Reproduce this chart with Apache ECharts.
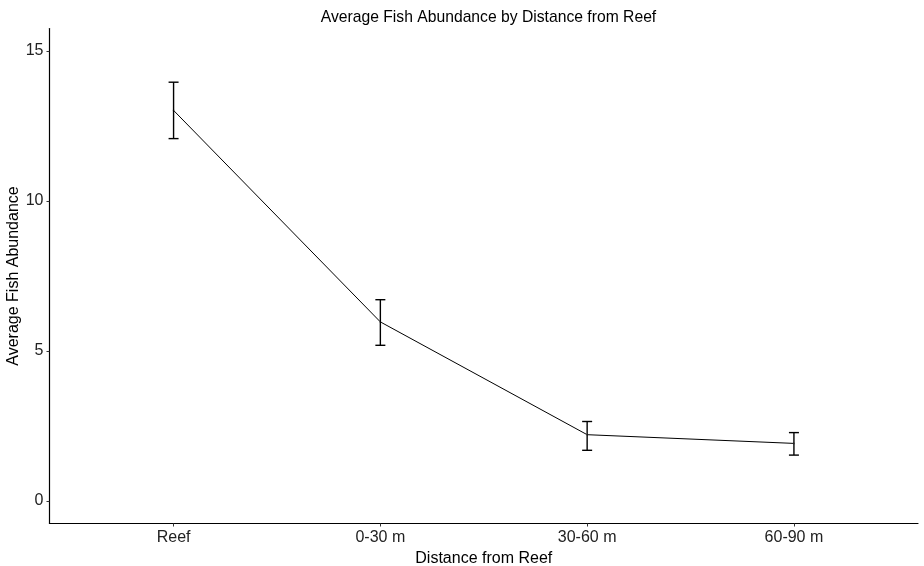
<!DOCTYPE html>
<html>
<head>
<meta charset="utf-8">
<script src="https://cdn.jsdelivr.net/npm/echarts@6/dist/echarts.min.js"></script>
<style>
  html, body { margin: 0; padding: 0; background: #fff; }
  #chart { width: 924px; height: 566px; }
</style>
</head>
<body>
<div id="chart"></div>
<script>
  const categories = ['Reef', '0-30 m', '30-60 m', '60-90 m'];
  const meanAbundance = [13.02, 5.97, 2.21, 1.92];
  const lowerBound = [12.08, 5.19, 1.69, 1.53];
  const upperBound = [13.96, 6.71, 2.65, 2.28];
  const yTicks = [0, 5, 10, 15];

  const chart = echarts.init(document.getElementById('chart'));
  const font = 'Liberation Sans, Arial, sans-serif';

  const lineData = meanAbundance.map((v, i) => [i, v]);
  const errorData = categories.map((c, i) => [i, lowerBound[i], upperBound[i]]);

  function renderErrorBar(params, api) {
    const x = api.value(0);
    const lo = api.coord([x, api.value(1)]);
    const hi = api.coord([x, api.value(2)]);
    const half = 5;
    const style = { stroke: '#000', lineWidth: 1.4 };
    return {
      type: 'group',
      children: [
        { type: 'line', shape: { x1: lo[0], y1: lo[1], x2: hi[0], y2: hi[1] }, style },
        { type: 'line', shape: { x1: lo[0] - half, y1: lo[1], x2: lo[0] + half, y2: lo[1] }, style },
        { type: 'line', shape: { x1: hi[0] - half, y1: hi[1], x2: hi[0] + half, y2: hi[1] }, style },
      ],
    };
  }

  chart.setOption({
    animation: false,
    title: {
      text: 'Average Fish Abundance by Distance from Reef',
      left: 483.5,
      textAlign: 'center',
      top: 5,
      textStyle: { fontFamily: font, fontSize: 15.7, fontWeight: 'normal', color: '#000' },
    },
    grid: {
      left: 49.5, right: 6, top: 28.5, bottom: 42.5,
      containLabel: false, outerBoundsMode: 'none',
    },
    xAxis: {
      type: 'value',
      min: -0.6,
      max: 3.6,
      name: 'Distance from Reef',
      nameLocation: 'middle',
      nameGap: 27,
      nameMoveOverlap: false,
      nameTextStyle: { fontFamily: font, fontSize: 16, color: '#000' },
      axisLine: { onZero: false, lineStyle: { color: '#000', width: 1.2 } },
      axisTick: { customValues: [0, 1, 2, 3], length: 3, lineStyle: { color: '#333' } },
      axisLabel: {
        customValues: [0, 1, 2, 3],
        formatter: (v) => categories[Math.round(v)],
        fontFamily: font, fontSize: 16, color: '#222', margin: 6,
      },
      splitLine: { show: false },
    },
    yAxis: {
      type: 'value',
      min: -0.75,
      max: 15.75,
      name: 'Average Fish Abundance',
      nameLocation: 'middle',
      nameGap: 28,
      nameMoveOverlap: false,
      nameTextStyle: { fontFamily: font, fontSize: 16, color: '#000' },
      axisLine: { show: true, onZero: false, lineStyle: { color: '#000', width: 1.2 } },
      axisTick: { show: true, customValues: yTicks, length: 3, lineStyle: { color: '#333' } },
      axisLabel: { customValues: yTicks, fontFamily: font, fontSize: 16, color: '#222', margin: 6 },
      splitLine: { show: false },
    },
    series: [
      {
        type: 'line',
        data: lineData,
        symbol: 'circle',
        symbolSize: 2,
        itemStyle: { color: '#999' },
        lineStyle: { color: '#000', width: 1 },
        z: 2,
      },
      {
        type: 'custom',
        data: errorData,
        renderItem: renderErrorBar,
        encode: { x: 0, y: [1, 2] },
        z: 3,
      },
    ],
  });
</script>
</body>
</html>
